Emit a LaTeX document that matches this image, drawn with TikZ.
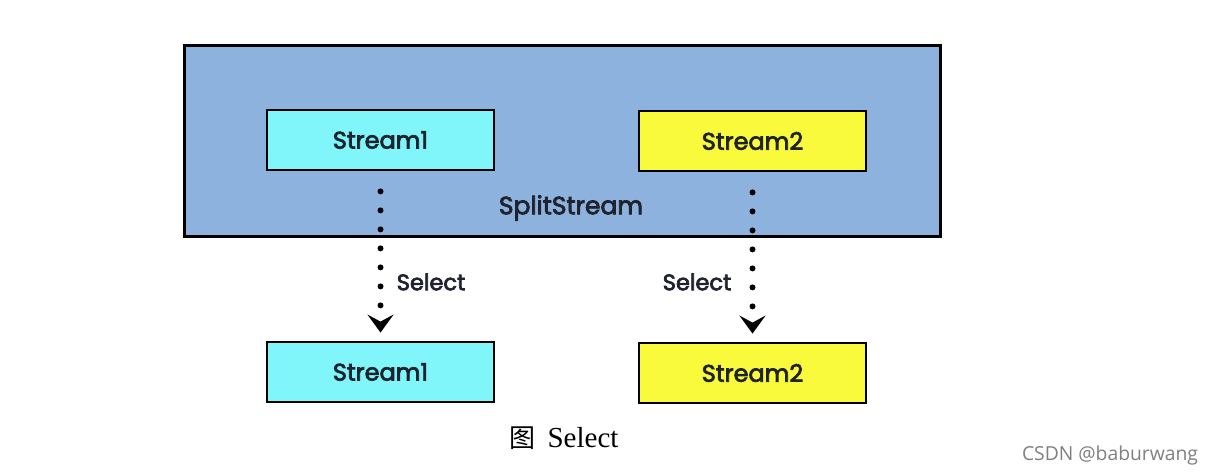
\documentclass[tikz,border=0pt]{standalone}
\usepackage{fontspec}
\setmainfont{Liberation Serif}
\newfontfamily\boxfont[FakeBold=3]{Poppins}
\newfontfamily\cjk{Noto Sans CJK SC}
\newfontfamily\wmfont{Open Sans}
\usetikzlibrary{arrows.meta}
\definecolor{outerblue}{RGB}{141,178,222}
\definecolor{cyanfill}{RGB}{128,246,250}
\definecolor{yellowfill}{RGB}{250,250,60}
\definecolor{textdark}{RGB}{30,35,45}
\tikzset{
  streambox/.style={draw=black, line width=2.8pt, minimum width=227pt, minimum height=60pt, inner sep=0pt,
    font=\boxfont\fontsize{24}{27}\selectfont, text=textdark},
  dotarrow/.style={line width=6pt, line cap=round, dash pattern=on 0pt off 19pt,
    -{Stealth[length=18pt,width=26pt,inset=7pt]}},
  lbl/.style={font=\boxfont\fontsize{22.5}{26}\selectfont, text=textdark, inner sep=0pt}
}
\begin{document}
\begin{tikzpicture}[x=1pt,y=-1pt]
\useasboundingbox (0,0) rectangle (1212,476);
\fill[white] (0,0) rectangle (1212,476);
\node[draw=black, fill=outerblue, line width=3pt, minimum width=756pt, minimum height=190pt, inner sep=0pt] (outer) at (562,141) {};
\node[font=\boxfont\fontsize{25}{28}\selectfont, text=textdark, inner sep=0pt] (split) at (571,208) {SplitStream};
\node[streambox, fill=cyanfill] (s1) at (380.5,140) {Stream1};
\node[streambox, fill=yellowfill] (s2) at (752.5,141) {Stream2};
\node[streambox, fill=cyanfill] (b1) at (380.5,372) {Stream1};
\node[streambox, fill=yellowfill] (b2) at (752.5,373) {Stream2};
\draw[dotarrow, shorten <=20pt, shorten >=8pt] (s1.south) -- (b1.north);
\draw[dotarrow, shorten <=20pt, shorten >=8pt] (s2.south) -- (b2.north);
\node[lbl] (sel1) at (431,282) {Select};
\node[lbl] (sel2) at (697,282) {Select};
\node[inner sep=0pt, font=\fontsize{29}{32}\selectfont] (cap) at (564,438) {{\cjk\fontsize{26}{30}\selectfont 图}\hspace{12pt}Select};
\node[inner sep=0pt, text=gray, font=\wmfont\fontsize{19.3}{22}\selectfont] (wm) at (1110,455) {CSDN @baburwang};
\end{tikzpicture}
\end{document}
